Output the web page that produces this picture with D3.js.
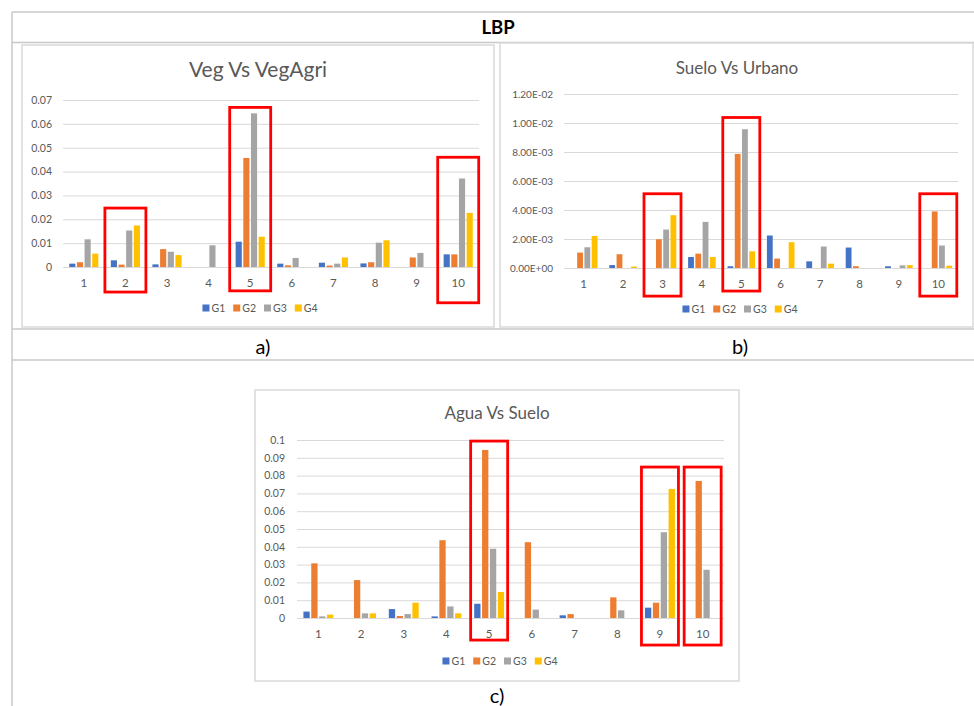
<!DOCTYPE html>
<html>
<head>
<meta charset="utf-8">
<script src="https://cdn.jsdelivr.net/npm/d3@7"></script>
<style>
  body { margin: 0; background: #fff; }
  svg text { font-family: Lato, "Open Sans", sans-serif; }
</style>
</head>
<body>
<svg id="page" width="974" height="706"></svg>
<script>
// categorias y series
const categories = ["1", "2", "3", "4", "5", "6", "7", "8", "9", "10"];
const seriesNames = ["G1", "G2", "G3", "G4"];
const seriesColors = ["#4472C4", "#ED7D31", "#A5A5A5", "#FFC000"];

// a) Veg Vs VegAgri
const vegG1 = [0.0014, 0.0028, 0.0011, 0, 0.0106, 0.0014, 0.0018, 0.0015, 0, 0.0053];
const vegG2 = [0.0020, 0.0010, 0.0075, 0, 0.0457, 0.0007, 0.0006, 0.0020, 0.0040, 0.0053];
const vegG3 = [0.0116, 0.0153, 0.0064, 0.0091, 0.0644, 0.0038, 0.0014, 0.0102, 0.0059, 0.0371];
const vegG4 = [0.0056, 0.0174, 0.0050, 0, 0.0127, 0, 0.0040, 0.0112, 0, 0.0227];
const vegTicks = [0, 0.01, 0.02, 0.03, 0.04, 0.05, 0.06, 0.07];
const vegTickLabels = ["0", "0.01", "0.02", "0.03", "0.04", "0.05", "0.06", "0.07"];
const vegBoxes = [["2", 0.0247, -0.0105], ["5", 0.0669, -0.0100], ["10", 0.0460, -0.0150]];

// b) Suelo Vs Urbano
const sueloG1 = [0, 0.00020, 0, 0.00076, 0.00012, 0.00224, 0.00046, 0.00141, 0.00012, 0];
const sueloG2 = [0.00106, 0.00095, 0.00198, 0.00099, 0.00787, 0.00065, 0, 0.00012, 0, 0.00390];
const sueloG3 = [0.00143, 0, 0.00265, 0.00318, 0.00957, 0, 0.00148, 0, 0.00018, 0.00155];
const sueloG4 = [0.00221, 0.00010, 0.00364, 0.00076, 0.00115, 0.00178, 0.00030, 0, 0.00020, 0.00016];
const sueloTicks = [0, 0.002, 0.004, 0.006, 0.008, 0.010, 0.012];
const sueloTickLabels = ["0.00E+00", "2.00E-03", "4.00E-03", "6.00E-03", "8.00E-03", "1.00E-02", "1.20E-02"];
const sueloBoxes = [["3", 0.00512, -0.00194], ["5", 0.01038, -0.00159], ["10", 0.00512, -0.00194]];

// c) Agua Vs Suelo
const aguaG1 = [0.0036, 0, 0.0050, 0.0009, 0.0080, 0, 0.0015, 0, 0.0058, 0];
const aguaG2 = [0.0307, 0.0213, 0.0011, 0.0437, 0.0944, 0.0426, 0.0022, 0.0116, 0.0086, 0.0770];
const aguaG3 = [0.0009, 0.0026, 0.0022, 0.0065, 0.0389, 0.0047, 0, 0.0043, 0.0482, 0.0271];
const aguaG4 = [0.0019, 0.0026, 0.0086, 0.0026, 0.0146, 0, 0, 0, 0.0725, 0];
const aguaTicks = [0, 0.01, 0.02, 0.03, 0.04, 0.05, 0.06, 0.07, 0.08, 0.09, 0.1];
const aguaTickLabels = ["0", "0.01", "0.02", "0.03", "0.04", "0.05", "0.06", "0.07", "0.08", "0.09", "0.1"];
const aguaBoxes = [["5", 0.0994, -0.0124], ["9", 0.0848, -0.0152], ["10", 0.0848, -0.0152]];

const svg = d3.select("#page");
const lineGray = "#c8c8c8";

// tabla
const table = svg.append("g")
    .attr("fill", "none")
    .attr("stroke", lineGray)
    .attr("stroke-width", 1.5);
[12, 42.5, 329, 360].forEach(y => {
    table.append("line").attr("x1", 12).attr("x2", 974).attr("y1", y).attr("y2", y);
});
table.append("line").attr("x1", 12).attr("x2", 12).attr("y1", 12).attr("y2", 706);

svg.append("text")
    .attr("x", 498).attr("y", 34)
    .attr("text-anchor", "middle")
    .style("font-size", "18.5px")
    .style("font-weight", "bold")
    .text("LBP");

function drawChart(cfg) {
    const g = svg.append("g");

    // marco
    g.append("rect")
        .attr("x", cfg.frame[0]).attr("y", cfg.frame[1])
        .attr("width", cfg.frame[2] - cfg.frame[0])
        .attr("height", cfg.frame[3] - cfg.frame[1])
        .attr("fill", "#fff")
        .attr("stroke", "#d9d9d9")
        .attr("stroke-width", 1.5);

    g.append("text")
        .attr("x", cfg.titleX).attr("y", cfg.titleY)
        .attr("text-anchor", "middle")
        .attr("fill", "#595959")
        .style("font-size", cfg.titleSize + "px")
        .text(cfg.title);

    const x = d3.scaleBand()
        .domain(categories)
        .range([cfg.left, cfg.right])
        .paddingInner(0.3)
        .paddingOuter(0.15);

    const x1 = d3.scaleBand()
        .domain(seriesNames)
        .range([0, x.bandwidth()])
        .paddingInner(0.2);

    const y = d3.scaleLinear()
        .domain([0, cfg.ticks[cfg.ticks.length - 1]])
        .range([cfg.bottom, cfg.top]);

    const color = d3.scaleOrdinal().domain(seriesNames).range(seriesColors);

    // eje y con lineas de cuadricula
    const yAxis = g.append("g")
        .attr("transform", `translate(${cfg.left},0)`)
        .call(d3.axisLeft(y)
            .tickValues(cfg.ticks)
            .tickFormat((d, i) => cfg.tickLabels[i])
            .tickSize(-(cfg.right - cfg.left))
            .tickPadding(cfg.yPad));
    yAxis.select(".domain").remove();
    yAxis.selectAll("line").attr("stroke", "#d9d9d9").attr("stroke-width", 1);
    yAxis.selectAll("text")
        .attr("fill", "#595959")
        .style("font-size", cfg.yFont + "px")
        .style("font-family", "Lato, 'Open Sans', sans-serif");

    const xAxis = g.append("g")
        .attr("transform", `translate(0,${cfg.bottom})`)
        .call(d3.axisBottom(x).tickSize(0).tickPadding(12));
    xAxis.select(".domain").remove();
    xAxis.selectAll("text")
        .attr("fill", "#595959")
        .style("font-size", "11.5px")
        .style("font-family", "Lato, 'Open Sans', sans-serif");

    // barras
    const rows = categories.map((c, i) => ({
        cat: c,
        values: seriesNames.map((s, j) => ({ key: s, value: cfg.series[j][i] }))
    }));

    g.append("g")
        .selectAll("g")
        .data(rows)
        .join("g")
        .attr("transform", d => `translate(${x(d.cat)},0)`)
        .selectAll("rect")
        .data(d => d.values)
        .join("rect")
        .attr("x", d => x1(d.key))
        .attr("y", d => y(d.value))
        .attr("width", x1.bandwidth())
        .attr("height", d => y(0) - y(d.value))
        .attr("fill", d => color(d.key));

    // recuadros rojos
    g.append("g")
        .selectAll("rect")
        .data(cfg.boxes)
        .join("rect")
        .attr("x", d => x(d[0]) + x.bandwidth() / 2 - cfg.boxWidth / 2)
        .attr("y", d => y(d[1]))
        .attr("width", cfg.boxWidth)
        .attr("height", d => y(d[2]) - y(d[1]))
        .attr("fill", "none")
        .attr("stroke", "#ff0000")
        .attr("stroke-width", 2.8);

    // leyenda
    const legend = g.append("g");
    let cx = 0;
    seriesNames.forEach((s, j) => {
        const item = legend.append("g").attr("transform", `translate(${cx},0)`);
        item.append("rect")
            .attr("x", 0).attr("y", -3.5)
            .attr("width", 7).attr("height", 7)
            .attr("fill", seriesColors[j]);
        const t = item.append("text")
            .attr("x", 9).attr("y", 4)
            .attr("fill", "#595959")
            .style("font-size", "10.5px")
            .text(s);
        cx += 9 + t.node().getComputedTextLength() + 8;
    });
    const legendWidth = cx - 8;
    legend.attr("transform", `translate(${cfg.legendX - legendWidth / 2},${cfg.legendY})`);

    svg.append("text")
        .attr("x", cfg.labelX).attr("y", cfg.labelY)
        .attr("text-anchor", "middle")
        .attr("fill", "#000")
        .style("font-size", "20px")
        .text(cfg.label);
}

drawChart({
    title: "Veg Vs VegAgri", titleSize: 21, titleX: 258, titleY: 77,
    frame: [22, 45, 494, 327],
    left: 63, right: 479, top: 100, bottom: 267,
    ticks: vegTicks, tickLabels: vegTickLabels, yPad: 11, yFont: 10.5,
    series: [vegG1, vegG2, vegG3, vegG4],
    boxes: vegBoxes, boxWidth: 41,
    legendX: 260, legendY: 308,
    label: "a)", labelX: 263, labelY: 354
});

drawChart({
    title: "Suelo Vs Urbano", titleSize: 17, titleX: 737, titleY: 74,
    frame: [500, 43, 973, 327],
    left: 564, right: 958, top: 94, bottom: 268,
    ticks: sueloTicks, tickLabels: sueloTickLabels, yPad: 11, yFont: 10,
    series: [sueloG1, sueloG2, sueloG3, sueloG4],
    boxes: sueloBoxes, boxWidth: 37,
    legendX: 740, legendY: 309,
    label: "b)", labelX: 740, labelY: 354
});

drawChart({
    title: "Agua Vs Suelo", titleSize: 17, titleX: 497, titleY: 419,
    frame: [255, 390, 739, 681],
    left: 297, right: 724, top: 440, bottom: 618,
    ticks: aguaTicks, tickLabels: aguaTickLabels, yPad: 12, yFont: 10.5,
    series: [aguaG1, aguaG2, aguaG3, aguaG4],
    boxes: aguaBoxes, boxWidth: 37,
    legendX: 500, legendY: 661,
    label: "c)", labelX: 497, labelY: 703
});
</script>
</body>
</html>
